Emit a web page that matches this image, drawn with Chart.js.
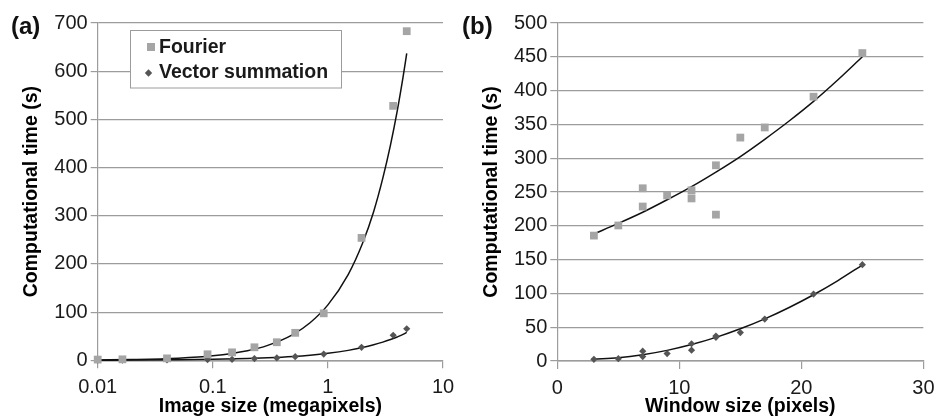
<!DOCTYPE html>
<html>
<head>
<meta charset="utf-8">
<script src="https://cdn.jsdelivr.net/npm/chart.js@4.4.1/dist/chart.umd.min.js"></script>
<style>
  body { margin: 0; background: #fff; }
  #wrap { position: relative; width: 942px; height: 418px; overflow: hidden; }
  #chartA { position: absolute; left: 0; top: 0; }
  #chartB { position: absolute; left: 471px; top: 0; }
  .tag { position: absolute; top: 14px; font: bold 24px "Liberation Sans", Arial, sans-serif; line-height: 24px; color: #111; }
</style>
</head>
<body>
<div id="wrap">
  <canvas id="chartA" width="471" height="418"></canvas>
  <canvas id="chartB" width="471" height="418"></canvas>
  <div class="tag" style="left:11px">(a)</div>
  <div class="tag" style="left:462px">(b)</div>
</div>
<script>
// (a) time vs image size, megapixels
const imageSizes = [0.01, 0.0164, 0.04, 0.09, 0.147, 0.23, 0.36, 0.52, 0.92, 1.96, 3.69, 4.84];
const fourierA = [1.5, 2, 4, 12.5, 16.5, 27, 37.5, 57, 97.5, 254, 528, 683];
const vectorA = [0.5, 0.5, 1, 1.5, 2, 3.5, 5, 7.5, 13, 27, 52, 65.5];
// trend lines
const fitSizesA = [0.01, 0.02, 0.05, 0.1, 0.2, 0.3, 0.5, 0.7, 1, 1.5, 2, 2.5, 3, 3.5, 4, 4.5, 4.84];
const fourierFitA = [0.8, 1.7, 4.5, 9.5, 20, 31, 54, 78, 115, 178, 243, 309, 378, 447, 517, 588, 637];
const vectorFitA = [0.3, 0.5, 1.1, 2.0, 3.6, 5.1, 7.9, 10.6, 14.5, 20.6, 26.5, 32.2, 37.7, 43.1, 48.4, 53.7, 58];
const xTicksA = [0.01, 0.1, 1, 10];

// (b) time vs window size, pixels
const windowSizes = [3, 5, 7, 7, 9, 11, 11, 13, 13, 15, 17, 21, 25];
const fourierB = [185.5, 200.5, 255.5, 228.5, 245, 252.5, 240.5, 289.5, 216.5, 330.5, 345.5, 391, 455.5];
const vectorB = [2.5, 3.5, 14.5, 6.5, 11, 25.5, 16, 37, 35, 42, 62, 99, 142.5];
const fitSizesB = [3, 5, 7, 9, 11, 13, 15, 17, 19, 21, 23, 25];
const fourierFitB = [188, 203.5, 220, 238.5, 258, 279.5, 302.5, 328, 355, 384, 416, 450];
const vectorFitB = [2.5, 4.8, 9.3, 15.7, 24.3, 34.9, 47.6, 62.3, 79.2, 98, 119, 142];

const seriesNames = ['Fourier', 'Vector summation'];

const FONT = '"Liberation Sans", Arial, sans-serif';
const lightGray = '#a5a5a5';
const darkGray = '#555555';
const gridColor = '#9c9c9c';
const textColor = '#1a1a1a';

function pts(xs, ys) {
  return xs.map((x, i) => ({ x: x, y: ys[i] }));
}

function datasets(xs, f, v, fx, ff, vf) {
  return [
    { label: seriesNames[0], data: pts(xs, f), pointStyle: 'rect', pointRadius: 5.5,
      backgroundColor: lightGray, borderColor: lightGray, borderWidth: 0, showLine: false, clip: false },
    { label: seriesNames[1], data: pts(xs, v), pointStyle: 'rectRot', pointRadius: 3.6,
      backgroundColor: darkGray, borderColor: darkGray, borderWidth: 0, showLine: false, clip: false },
    { label: 'fitF', data: pts(fx, ff), showLine: true, pointRadius: 0, borderColor: '#111',
      borderWidth: 1.5, cubicInterpolationMode: 'monotone', clip: false },
    { label: 'fitV', data: pts(fx, vf), showLine: true, pointRadius: 0, borderColor: '#111',
      borderWidth: 1.5, cubicInterpolationMode: 'monotone', clip: false }
  ];
}

const legendBox = {
  id: 'legendBox',
  afterDraw(chart) {
    const ctx = chart.ctx;
    ctx.save();
    ctx.fillStyle = '#fff';
    ctx.strokeStyle = gridColor;
    ctx.lineWidth = 1;
    ctx.fillRect(131, 30, 210, 58);
    ctx.strokeRect(130.5, 30.5, 211, 57.5);
    ctx.font = 'bold 19.5px ' + FONT;
    ctx.textBaseline = 'middle';
    ctx.fillStyle = textColor;
    ctx.fillText(seriesNames[0], 159, 47.5);
    ctx.fillText(seriesNames[1], 159, 73);
    ctx.fillStyle = lightGray;
    ctx.fillRect(147, 43, 8, 8);
    ctx.fillStyle = darkGray;
    ctx.beginPath();
    ctx.moveTo(148.5, 69.3);
    ctx.lineTo(152.2, 73);
    ctx.lineTo(148.5, 76.7);
    ctx.lineTo(144.8, 73);
    ctx.closePath();
    ctx.fill();
    ctx.restore();
  }
};

function yAxis(max, step, titlePad, width, tickPad) {
  return {
    min: 0, max: max,
    ticks: { stepSize: step, padding: tickPad, color: textColor, font: { family: FONT, size: 20 } },
    grid: { color: gridColor, lineWidth: 1.2, tickLength: 7 },
    border: { color: gridColor, width: 1.2 },
    title: { display: true, text: 'Computational time (s)', color: '#000',
             font: { family: FONT, size: 19.5, weight: 'bold' }, padding: { top: titlePad, bottom: 0 } },
    afterFit(s) { s.width = width; }
  };
}

function xAxisCommon(title, height) {
  return {
    ticks: { padding: 7.5, color: textColor, maxRotation: 0, autoSkip: false, font: { family: FONT, size: 20 } },
    grid: { drawOnChartArea: false, drawTicks: true, tickLength: 8, color: gridColor, lineWidth: 1.2 },
    border: { color: gridColor, width: 1.5 },
    title: { display: true, text: title, color: '#000',
             font: { family: FONT, size: 19.5, weight: 'bold' }, padding: { top: 0, bottom: 0 } },
    afterFit(s) { s.height = height; }
  };
}

const common = {
  responsive: false,
  animation: false,
  events: [],
  plugins: { legend: { display: false }, tooltip: { enabled: false } }
};

const xA = Object.assign(xAxisCommon('Image size (megapixels)', 57.7), {
  type: 'logarithmic', min: 0.01, max: 10,
  afterBuildTicks(s) { s.ticks = xTicksA.map(v => ({ value: v })); }
});
xA.ticks.callback = v => String(v);

new Chart(document.getElementById('chartA'), {
  type: 'scatter',
  data: { datasets: datasets(imageSizes, fourierA, vectorA, fitSizesA, fourierFitA, vectorFitA) },
  options: Object.assign({}, common, {
    layout: { padding: { left: 0, top: 23, right: 28, bottom: 0 } },
    scales: { x: xA, y: yAxis(700, 100, 20, 97.7, 3) }
  }),
  plugins: [legendBox]
});

const xB = Object.assign(xAxisCommon('Window size (pixels)', 57), {
  type: 'linear', min: 0, max: 30
});
xB.ticks.stepSize = 10;

new Chart(document.getElementById('chartB'), {
  type: 'scatter',
  data: { datasets: datasets(windowSizes, fourierB, vectorB, fitSizesB, fourierFitB, vectorFitB) },
  options: Object.assign({}, common, {
    layout: { padding: { left: 0, top: 23, right: 11.3, bottom: 0 } },
    scales: { x: xB, y: yAxis(500, 50, 8.5, 86.3, 3) }
  })
});
</script>
</body>
</html>
